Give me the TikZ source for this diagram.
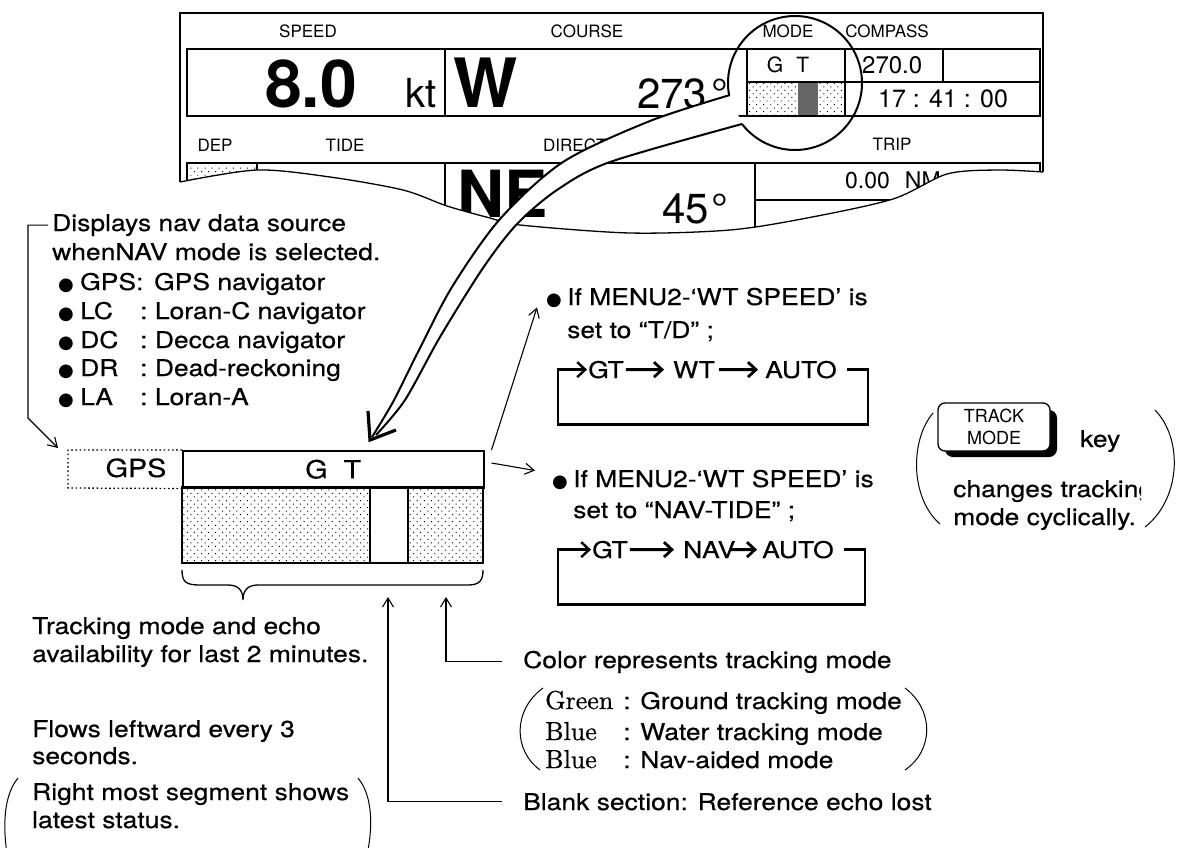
\documentclass[tikz,border=0pt]{standalone}
\usepackage{fontspec}
\newfontfamily\hv{TeX Gyre Heros}
\newfontfamily\hvw[FakeStretch=1.15,FakeBold=0.4]{TeX Gyre Heros}
\newfontfamily\dvs{DejaVu Sans}
\newfontfamily\lmb[FakeBold=0.6]{lmroman10-regular.otf}
\usetikzlibrary{arrows.meta,patterns.meta}
\newcommand\annfont{\hvw\fontsize{23}{28}\selectfont}
\newcommand\bulletglyph{{\dvs\fontsize{18}{18}\selectfont ●}}
\newcommand\serw[1]{{\lmb\fontsize{26}{26}\selectfont #1}}
\begin{document}
\begin{tikzpicture}[x=1pt,y=-1pt,
  ann/.style={font=\annfont, inner sep=0pt, anchor=base west},
  plab/.style={font=\hv\fontsize{17}{17}\selectfont, inner sep=0pt, anchor=base},
  pval/.style={inner sep=0pt, anchor=base west},
  pline/.style={line width=1.5pt},
  thinarr/.style={line width=1.1pt, -{Straight Barb[length=9pt,width=11pt]}},
  chainarr/.style={line width=2.8pt, -{Straight Barb[length=8pt,width=15pt]}},
  looparr/.style={line width=2.4pt, -{Straight Barb[length=8pt,width=15pt]}},
  dotsfill/.style={pattern={Dots[distance=5pt,radius=.7pt,angle=45]}},
  keybox/.style={draw, fill=white, line width=1.3pt, rounded corners=7pt, minimum width=112pt, minimum height=48pt, inner sep=0pt, align=center, font=\hv\fontsize{18}{22}\selectfont},
  paren/.style={line width=1pt}
]
\fill[white] (0,0) rectangle (1179,847);
\useasboundingbox (0,0) rectangle (1179,847);

% ---------------- display panel ----------------
\begin{scope}
\clip (180,13) -- (1043,13) -- (1043,172) -- plot[smooth] coordinates {(1043,172) (997,170) (947,174) (893,199) (807,218) (730,230) (630,233) (520,225) (490,218) (447,206) (403,190) (330,177) (257,170) (180,182)} -- cycle;
% row 1
\fill[dotsfill] (747,82) rectangle (798,116);
\fill[black!60] (798,82) rectangle (818,116);
\fill[dotsfill] (818,82) rectangle (845,116);
\draw[pline] (187,49) rectangle (1040,116);
\draw[pline] (445,49) -- (445,116);
\draw[pline] (747,49) -- (747,116);
\draw[pline] (845,49) -- (845,116);
\draw[pline] (943,49) -- (943,82);
\draw[pline] (747,82) -- (1040,82);
% row 2
\fill[dotsfill] (189,165) rectangle (255,200);
\draw[pline] (187,260) -- (187,163) -- (1040,163) -- (1040,260);
\draw[pline] (257,163) -- (257,260);
\draw[pline] (445,163) -- (445,260);
\draw[pline] (755,163) -- (755,260);
\draw[pline] (755,200) -- (1040,200);
% labels
\node[plab] (lspeed) at (308,37) {SPEED};
\node[plab] (lcourse) at (587,37) {COURSE};
\node[plab] (lmode) at (788,37) {MODE};
\node[plab] (lcompass) at (887,37) {COMPASS};
\node[plab] (ldep) at (215,151) {DEP};
\node[plab] (ltide) at (345,151) {TIDE};
\node[plab, anchor=base west] (ldir) at (543,151) {DIRECTION};
\node[plab] (ltrip) at (892,150) {TRIP};
% values
\node[pval, font=\hv\bfseries\fontsize{66}{66}\selectfont] (v8) at (265,107) {8.0};
\node[pval, font=\hv\fontsize{40}{40}\selectfont] (vkt) at (405,107) {kt};
\node[pval, font=\hv\bfseries\fontsize{68}{68}\selectfont] (vw) at (453,107) {W};
\node[pval, font=\hv\fontsize{42}{42}\selectfont] (v273) at (637,108) {273\kern4pt°};
\node[pval, font=\hv\fontsize{21}{21}\selectfont, anchor=base] (vgt) at (788,72) {G\hspace{13pt}T};
\node[pval, font=\hv\fontsize{24}{24}\selectfont] (v270) at (862,73) {270.0};
\node[pval, font=\hv\fontsize{25}{25}\selectfont] (vtime) at (878,107) {17 : 41 : 00};
\node[pval, font=\hv\bfseries\fontsize{65}{65}\selectfont] (vne) at (457,217) {NE};
\node[pval, font=\hv\fontsize{42}{42}\selectfont] (v45) at (662,223) {45\kern3pt°};
\node[pval, font=\hv\fontsize{23}{23}\selectfont] (vnm) at (845,188) {0.00\hspace{15pt}NM};
\end{scope}
\draw[pline] (180,182) -- (180,13) -- (1043,13) -- (1043,172);
\draw[line width=1.3pt] plot[smooth] coordinates {(1043,172) (997,170) (947,174) (893,199) (807,218) (730,230) (630,233) (520,225) (490,218) (447,206) (403,190) (330,177) (257,170) (180,182)};

% ---------------- magnifier tube ----------------
\fill[white] plot[smooth] coordinates {(730,95) (650,121) (563,162) (500,219) (452,287) (418,352) (393,402) (372,437)}
  -- plot[smooth] coordinates {(376,435) (405,400) (440,337) (483,268) (517,224) (557,190) (610,162) (742,124)} -- cycle;
\draw[line width=2pt] plot[smooth] coordinates {(730,95) (650,121) (563,162) (500,219) (452,287) (418,352) (393,402) (372,437)};
\draw[line width=2pt] plot[smooth] coordinates {(742,124) (610,162) (557,190) (517,224) (483,268) (440,337) (405,400) (376,435)};
\draw[line width=3.2pt, line join=miter] (368,411) -- (370,440) -- (396,430);
\draw[line width=2pt] plot[domain=169.5:502.3, samples=120, smooth] ({795+67*cos(\x)},{83+67*sin(\x)});

% ---------------- left annotation ----------------
\node[ann] (d1) at (52,231) {Displays nav data source};
\node[ann] (d2) at (52,260) {whenNAV mode is selected.};
\node[ann] (b1) at (58,290) {\makebox[22pt][l]{\bulletglyph}\makebox[74pt][l]{GPS:}GPS navigator};
\node[ann] (b2) at (58,319) {\makebox[22pt][l]{\bulletglyph}\makebox[60pt][l]{LC}:\ Loran-C navigator};
\node[ann] (b3) at (58,348) {\makebox[22pt][l]{\bulletglyph}\makebox[60pt][l]{DC}:\ Decca navigator};
\node[ann] (b4) at (58,376) {\makebox[22pt][l]{\bulletglyph}\makebox[60pt][l]{DR}:\ Dead-reckoning};
\node[ann] (b5) at (58,405) {\makebox[22pt][l]{\bulletglyph}\makebox[60pt][l]{LA}:\ Loran-A};
\coordinate (brk) at (28,418);
\coordinate (gpstip) at (58,448);
\draw[thinarr] ([xshift=-4pt]d1.west) -| (brk) -- (gpstip);

% ---------------- GT box and bar ----------------
\fill[dotsfill] (182,487) rectangle (370,563);
\fill[dotsfill] (408,487) rectangle (483,563);
\draw[pline] (182,487) rectangle (483,563);
\draw[pline] (370,487) -- (370,563);
\draw[pline] (408,487) -- (408,563);
\node[draw, line width=1.5pt, minimum width=301pt, minimum height=37pt, inner sep=0pt, anchor=north west, font=\hvw\fontsize{25}{25}\selectfont] (gtbox) at (182,450) {G\hspace{16pt}T};
\draw[line width=1.3pt, dash pattern=on 1.6pt off 2.6pt] (gtbox.north west) -- (68,450) -- (68,488) -- (gtbox.south west);
\node[font=\hvw\fontsize{25}{25}\selectfont, inner sep=0pt, anchor=base] (gps) at (136,477) {GPS};
\draw[line width=1.3pt] (182,570) .. controls (182,582) and (186,585) .. (200,585) -- (228,585) .. controls (238,585) and (243,590) .. (243,600) .. controls (243,590) and (248,585) .. (258,585) -- (468,585) .. controls (480,585) and (483,580) .. (483,570);

% ---------------- right annotation ----------------
\node[ann] (m1) at (546,305) {\makebox[21pt][l]{\bulletglyph}If MENU2-‘WT SPEED’ is};
\node[ann] (m2) at (567,338) {set to “T/D” ;};
\node[ann] (gt1) at (588,378) {GT};
\node[ann] (wt1) at (673,378) {WT};
\node[ann] (auto1) at (765,378) {AUTO};
\draw[chainarr] ([xshift=2pt]gt1.east) -- ([xshift=-9pt]wt1.west);
\draw[chainarr] ([xshift=4pt]wt1.east) -- ([xshift=-7pt]auto1.west);
\draw[looparr] ([xshift=10pt]auto1.east) -- ++(21,0) -- ++(0,55) -| ([xshift=-30pt]gt1.west) -- ([xshift=-1pt]gt1.west);

\node[ann] (m3) at (552,487) {\makebox[21pt][l]{\bulletglyph}If MENU2-‘WT SPEED’ is};
\node[ann] (m4) at (573,518) {set to “NAV-TIDE” ;};
\node[ann] (gt2) at (592,558) {GT};
\node[ann] (nav2) at (683,558) {NAV};
\node[ann] (auto2) at (762,558) {AUTO};
\draw[chainarr] ([xshift=2pt]gt2.east) -- ([xshift=-9pt]nav2.west);
\draw[chainarr] ([xshift=-6pt]nav2.east) -- ([xshift=-5pt]auto2.west);
\draw[looparr] ([xshift=10pt]auto2.east) -- ++(21,0) -- ++(0,55) -| ([xshift=-34pt]gt2.west) -- ([xshift=-1pt]gt2.west);

\draw[thinarr] ([xshift=7pt]gtbox.north east) -- ([xshift=-9pt]m1.south west);
\draw[thinarr] ([xshift=7pt,yshift=-13pt]gtbox.north east) -- ([xshift=-17pt,yshift=9pt]m3.west);

% ---------------- TRACK MODE key ----------------
\fill[rounded corners=8pt] (945,410) rectangle (1057,457);
\node[keybox] (key) at (994,427) {TRACK\\MODE};
\node[ann] (kw) at (1080,447) {key};
\begin{scope}
\clip (940,470) rectangle (1141,505);
\node[ann] (ch1) at (953,497) {changes tracking};
\end{scope}
\node[ann] (ch2) at (953,525) {mode cyclically.};
\draw[paren] (933,413) .. controls (910,440) and (910,498) .. (940,524);
\draw[paren] (1155,410) .. controls (1184,440) and (1180,500) .. (1145,527);

% ---------------- bottom left ----------------
\node[ann] (t1) at (32,634) {Tracking mode and echo};
\node[ann] (t2) at (32,662) {availability for last 2 minutes.};
\node[ann] (f1) at (32,737) {Flows leftward every 3};
\node[ann] (f2) at (32,764) {seconds.};
\node[ann] (f3) at (32,800) {Right most segment shows};
\node[ann] (f4) at (32,828) {latest status.};
\draw[paren] (18,778) .. controls (4,795) and (2,825) .. (8,860);
\draw[paren] (358,778) .. controls (372,795) and (374,825) .. (366,860);

% ---------------- bottom right ----------------
\node[ann] (col) at (523,668) {Color represents tracking mode};
\node[ann] (g1) at (545,709) {\makebox[78pt][l]{\serw{Green}}: Ground tracking mode};
\node[ann] (g2) at (545,740) {\makebox[78pt][l]{\serw{Blue}}: Water tracking mode};
\node[ann] (g3) at (545,768) {\makebox[78pt][l]{\serw{Blue}}: Nav-aided mode};
\node[ann] (bl) at (523,810) {Blank section: Reference echo lost};
\draw[paren] (543,688) .. controls (513,710) and (513,750) .. (540,770);
\draw[paren] (905,688) .. controls (934,710) and (934,750) .. (905,770);
\coordinate (colT) at (446,597);
\coordinate (blT) at (388,597);
\draw[thinarr] ([xshift=-21pt]col.west) -| (colT);
\draw[thinarr] ([xshift=-21pt]bl.west) -| (blT);
\end{tikzpicture}
\end{document}
